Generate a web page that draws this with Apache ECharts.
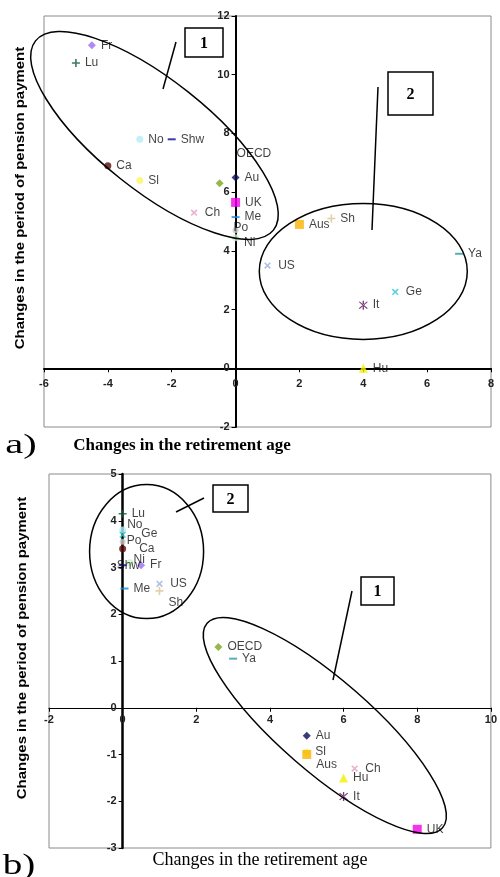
<!DOCTYPE html>
<html>
<head>
<meta charset="utf-8">
<script src="https://cdn.jsdelivr.net/npm/echarts@6.0.0/dist/echarts.min.js"></script>
<style>
  html, body { margin: 0; padding: 0; background: #fff; }
  #chart { width: 500px; height: 877px; }
</style>
</head>
<body>
<div id="chart"></div>
<script>
// panel a) values
var countriesA = ['Fr', 'Lu', 'No', 'Shw', 'Ca', 'Sl', 'Ch', 'OECD', 'Au', 'UK', 'Me', 'Po', 'Ni', 'Aus', 'Sh', 'US', 'Ya', 'Ge', 'It', 'Hu']
var retireA = [-4.5, -5, -3, -2, -4, -3, -1.3, -0.5, 0, 0, 0, 0, 0, 2, 3, 1, 7, 5, 4, 4]
var pensionA = [11, 10.4, 7.8, 7.8, 6.9, 6.4, 5.3, 6.3, 6.5, 5.65, 5.15, 4.7, 4.45, 4.9, 5.1, 3.5, 3.9, 2.6, 2.15, 0]

// panel b) values
var countriesB = ['Lu', 'No', 'Ge', 'Po', 'Ca', 'Shw', 'Ni', 'Fr', 'Me', 'US', 'Sh', 'OECD', 'Ya', 'Au', 'Sl', 'Aus', 'Ch', 'Hu', 'It', 'UK']
var retireB = [0, 0, 0, 0, 0, 0, 0.2, 0.5, 0.05, 1, 1, 2.6, 3, 5, 5, 5, 6.3, 6, 6, 8]
var pensionB = [4.15, 3.8, 3.7, 3.55, 3.4, 3.05, 3.1, 3.05, 2.55, 2.65, 2.5, 1.3, 1.05, -0.6, -0.95, -1, -1.3, -1.5, -1.9, -2.6]

var yTitle = 'Changes in the period of pension payment'
var xTitle = 'Changes in the retirement age'

var PLUS = 'path://M4,0H6V4H10V6H6V10H4V6H0V4H4Z'
var STAR = 'path://M4.4,0H5.6V10H4.4Z M1,1.6L1.8,0.8L9,8.4L8.2,9.2Z M9,1.6L8.2,0.8L1,8.4L1.8,9.2Z'

// marker look per country
var markStyle = {
  Fr: { symbol: 'diamond', color: '#9b6bf2', size: 8 },
  Lu: { symbol: PLUS, color: '#0b5a3a', size: 8 },
  No: { symbol: 'circle', color: '#b4eef6', size: 7 },
  Shw: { symbol: 'rect', color: '#0a0a9a', size: [8, 2] },
  Ca: { symbol: 'circle', color: '#5a0a0a', size: 7 },
  Sl: { symbol: 'circle', color: '#fbf66a', size: 7 },
  Ch: { symbol: PLUS, color: '#e59cc4', size: 8, rotate: 45 },
  OECD: { symbol: 'diamond', color: '#7aa61e', size: 8 },
  Au: { symbol: 'diamond', color: '#0a0a55', size: 8 },
  UK: { symbol: 'rect', color: '#f000e8', size: 9 },
  Me: { symbol: 'rect', color: '#1a8ad8', size: [8, 2] },
  Po: { symbol: 'circle', color: '#c8c8c8', size: 6 },
  Ni: { symbol: 'circle', color: '#c8f6c8', size: 7 },
  Aus: { symbol: 'rect', color: '#f7b400', size: 9 },
  Sh: { symbol: PLUS, color: '#dcc48e', size: 8 },
  US: { symbol: PLUS, color: '#9aaee0', size: 8, rotate: 45 },
  Ya: { symbol: 'rect', color: '#2c9a9a', size: [8, 2] },
  Ge: { symbol: PLUS, color: '#30c8d0', size: 8, rotate: 45 },
  It: { symbol: STAR, color: '#5a0a5a', size: 9 },
  Hu: { symbol: 'triangle', color: '#f4f000', size: 9 }
}

// label nudges where Excel put the label elsewhere
var labelShiftA = { OECD: [8, -30], Po: [-10, -3], Ni: [0, 5] }
var labelShiftB = { No: [-4, -5], Ge: [8, -1], Po: [-4, -1], Ca: [8, 0], Shw: [-15, 1], Ni: [-5, -3], Sh: [0, 12], Aus: [0, 10] }

function buildItems (names, xs, ys, shifts) {
  return names.map(function (n, i) {
    var s = markStyle[n]
    var item = {
      name: n,
      value: [xs[i], ys[i]],
      symbol: s.symbol,
      symbolSize: s.size,
      symbolRotate: s.rotate || 0,
      itemStyle: { color: s.color }
    }
    if (shifts[n]) item.label = { offset: shifts[n] }
    return item
  })
}

var tickFont = { fontFamily: 'Liberation Sans', fontSize: 11, fontWeight: 'bold', color: '#222' }

function valueAxis (gridIndex, min, max, interval, width, margin) {
  return {
    type: 'value',
    gridIndex: gridIndex,
    min: min,
    max: max,
    interval: interval,
    axisLine: { onZero: false, lineStyle: { color: '#000', width: width } },
    axisTick: { length: 4, lineStyle: { color: '#000' } },
    axisLabel: Object.assign({ margin: margin }, tickFont),
    splitLine: { show: false }
  }
}

function scatter (idx, data) {
  return {
    type: 'scatter',
    xAxisIndex: idx,
    yAxisIndex: idx,
    data: data,
    z: 5,
    label: {
      show: true,
      position: 'right',
      formatter: '{b}',
      fontFamily: 'Liberation Sans',
      fontSize: 12,
      color: '#111'
    },
    emphasis: { disabled: true }
  }
}

var grids = [
  { left: 44, top: 16, width: 447, height: 411, show: true, borderColor: '#8a8a8a', borderWidth: 1 },
  { left: 49, top: 474, width: 444, height: 374, show: true, borderColor: '#8a8a8a', borderWidth: 1 }
]
var xAxes = [valueAxis(0, -6, 8, 2, 2, 10), valueAxis(1, -2, 10, 2, 1.2, 7)]
var yAxes = [valueAxis(0, -2, 12, 2, 2, 6), valueAxis(1, -3, 5, 1, 2.5, 6)]

var chart = echarts.init(document.getElementById('chart'))

chart.setOption({
  animation: false,
  backgroundColor: '#fff',
  grid: grids,
  xAxis: xAxes,
  yAxis: yAxes,
  series: [
    scatter(0, buildItems(countriesA, retireA, pensionA, labelShiftA)),
    scatter(1, buildItems(countriesB, retireB, pensionB, labelShiftB))
  ]
})

// move each axis (line, ticks, labels) onto the zero of the other axis, Excel style
grids.forEach(function (g, i) {
  var zero = chart.convertToPixel({ gridIndex: i }, [0, 0])
  xAxes[i].offset = -(g.top + g.height - zero[1])
  yAxes[i].offset = -(zero[0] - g.left)
})
chart.setOption({ xAxis: xAxes, yAxis: yAxes })

// ellipses: centre in data units, radii in pixels, tilt in degrees
var ellipses = [
  { grid: 0, c: [-2.54, 7.93], rx: 152, ry: 55, deg: 38.5 },
  { grid: 0, c: [4.0, 3.3], rx: 104, ry: 68, deg: 0 },
  { grid: 1, c: [0.65, 3.34], rx: 57, ry: 67, deg: 0 },
  { grid: 1, c: [5.49, -0.38], rx: 156, ry: 46, deg: 41 }
]

var graphics = []
ellipses.forEach(function (e) {
  var p = chart.convertToPixel({ gridIndex: e.grid }, e.c)
  graphics.push({
    type: 'ellipse',
    x: p[0],
    y: p[1],
    rotation: -e.deg * Math.PI / 180,
    shape: { cx: 0, cy: 0, rx: e.rx, ry: e.ry },
    style: { fill: 'none', stroke: '#000', lineWidth: 1.5 },
    silent: true,
    z: 20
  })
})

// numbered boxes with their pointer lines
var boxes = [
  { t: '1', x: 185, y: 28, w: 38, h: 29, line: [176, 42, 163, 89] },
  { t: '2', x: 388, y: 72, w: 45, h: 43, line: [378, 87, 372, 230] },
  { t: '2', x: 213, y: 485, w: 35, h: 27, line: [204, 498, 176, 512] },
  { t: '1', x: 361, y: 577, w: 33, h: 28, line: [352, 591, 333, 680] }
]
boxes.forEach(function (b) {
  graphics.push({
    type: 'line',
    shape: { x1: b.line[0], y1: b.line[1], x2: b.line[2], y2: b.line[3] },
    style: { stroke: '#000', lineWidth: 1.5 },
    silent: true,
    z: 20
  })
  graphics.push({
    type: 'rect',
    shape: { x: b.x, y: b.y, width: b.w, height: b.h },
    style: { fill: '#fff', stroke: '#000', lineWidth: 1.5 },
    silent: true,
    z: 21
  })
  graphics.push({
    type: 'text',
    x: b.x + b.w / 2,
    y: b.y + b.h / 2 + 1,
    style: { text: b.t, fontFamily: 'Liberation Serif', fontSize: 16, fontWeight: 'bold', fill: '#000', align: 'center', verticalAlign: 'middle' },
    silent: true,
    z: 22
  })
})

// titles
function txt (text, x, y, opts) {
  return {
    type: 'text',
    x: x,
    y: y,
    rotation: opts.rotation || 0,
    scaleX: opts.stretch || 1,
    style: {
      text: text,
      fontFamily: opts.family,
      fontSize: opts.size,
      fontWeight: opts.weight || 'normal',
      fill: '#000',
      align: 'center',
      verticalAlign: 'middle'
    },
    silent: true,
    z: 22
  }
}
graphics.push(txt(yTitle, 20, 198, { family: 'Liberation Sans', size: 13, weight: 'bold', rotation: Math.PI / 2, stretch: 1.15 }))
graphics.push(txt(yTitle, 22, 648, { family: 'Liberation Sans', size: 13, weight: 'bold', rotation: Math.PI / 2, stretch: 1.15 }))
graphics.push(txt(xTitle, 182, 446, { family: 'Liberation Serif', size: 17, weight: 'bold' }))
graphics.push(txt(xTitle, 260, 860, { family: 'Liberation Serif', size: 18 }))
graphics.push(txt('a)', 21, 446, { family: 'Liberation Serif', size: 27, stretch: 1.5 }))
graphics.push(txt('b)', 19, 866, { family: 'Liberation Serif', size: 29, stretch: 1.35 }))

chart.setOption({ graphic: graphics })
</script>
</body>
</html>
